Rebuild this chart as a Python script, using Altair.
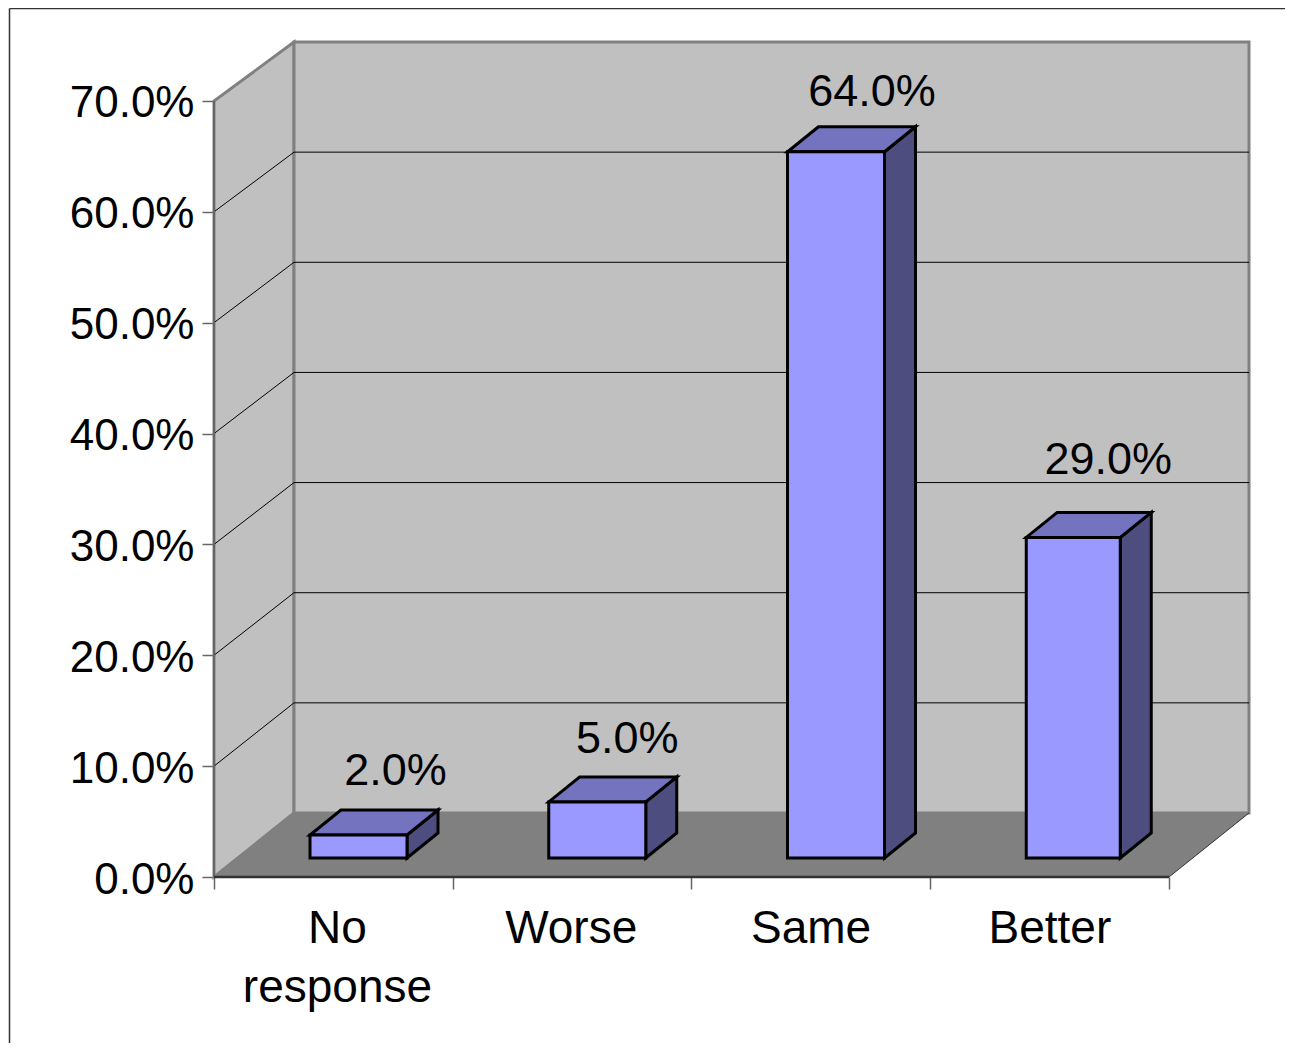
import altair as alt
import pandas as pd

categories = ["No\nresponse", "Worse", "Same", "Better"]
values = [2.0, 5.0, 64.0, 29.0]
label_lift = [50, 49, 46, 63]
label_shift = [37, 30, 36, 35]
bar_width = [97, 97, 97, 94]
y_ticks = [0, 10, 20, 30, 40, 50, 60, 70]
x_ticks = [0, 1, 2, 3, 4]

# Scale constants (pixels per data unit of the front plane)
PX_X, PX_Y = 238.75, 11.086
W, H = 1035, 835
XMAX, YMAX = W / PX_X, H / PX_Y
DX, DY = 80 / PX_X, 64 / PX_Y          # chart depth
BACK = (YMAX - DY) / 70                # back wall scale factor
BAR_L = 96 / PX_X
BAR_BASE = 19 / PX_Y
BAR_K = 0.994
BAR_C = 1 / PX_Y
BDX, BDY = 31 / PX_X, 25 / PX_Y        # bar depth

FONT = "Liberation Sans"
xs = alt.Scale(domain=[0, XMAX], nice=False, zero=False)
ys = alt.Scale(domain=[0, YMAX], nice=False, zero=False)
x_axis = alt.Axis(values=x_ticks, labels=False, domain=False, grid=False, title=None,
                  tickSize=12, tickColor="#666666", tickWidth=1.5)
y_axis = alt.Axis(values=y_ticks, domain=False, grid=False, tickSize=12, title=None,
                  tickColor="#666666", tickWidth=1.5, labelFont=FONT,
                  labelFontSize=44, labelColor="#000000", labelPadding=8, labelOffset=3,
                  labelOverlap=False, labelBound=False, labelFlush=False,
                  labelExpr="format(datum.value,'.1f')+'%'")
X = lambda f="x", **k: alt.X(f"{f}:Q", scale=xs, axis=x_axis, **k)
Y = lambda f="y", **k: alt.Y(f"{f}:Q", scale=ys, axis=y_axis, **k)

# Walls and floor
left_wall = pd.DataFrame({"x": [0, DX], "y": [0, DY], "y2": [70, YMAX]})
back_wall = pd.DataFrame({"x": [DX, 4 + DX], "y": [DY, DY], "y2": [YMAX, YMAX]})
floor = pd.DataFrame({"y": [0, DY], "x": [0, DX], "x2": [4, 4 + DX]})

wall_l = alt.Chart(left_wall).mark_area(color="#C0C0C0", stroke="#808080", strokeWidth=3).encode(
    x=X(), y=Y(), y2="y2:Q")
wall_b = alt.Chart(back_wall).mark_area(color="#C0C0C0", stroke="#808080", strokeWidth=3).encode(
    x=X(), y=Y(), y2="y2:Q")

grid_rows = []
for v in y_ticks[1:-1]:
    grid_rows += [
        {"v": v, "x": 0, "y": v, "o": 0},
        {"v": v, "x": DX, "y": DY + v * BACK, "o": 1},
        {"v": v, "x": 4 + DX, "y": DY + v * BACK, "o": 2},
    ]
grid = alt.Chart(pd.DataFrame(grid_rows)).mark_line(color="#000000", strokeWidth=1).encode(
    x=X(), y=Y(), detail="v:N", order="o:Q")

floor_area = alt.Chart(floor).mark_area(color="#808080", orient="horizontal").encode(
    y=Y(), x=X(), x2="x2:Q")

floor_edge = alt.Chart(pd.DataFrame({"x": [4, 4 + DX], "y": [0, DY]})).mark_line(
    color="#333333", strokeWidth=1).encode(x=X(), y=Y())
left_edge = alt.Chart(pd.DataFrame({"x": [0], "y": [0], "y2": [70]})).mark_rule(
    color="#666666", strokeWidth=2).encode(x=X(), y=Y(), y2="y2:Q")
front_edge = alt.Chart(pd.DataFrame({"x": [0], "x2": [4], "y": [0]})).mark_rule(
    color="#333333", strokeWidth=2.5).encode(x=X(), x2="x2:Q", y=Y())

# Bars
front, top, side, text = [], [], [], []
for i, (c, v, lift, shift, bw) in enumerate(zip(categories, values, label_lift, label_shift, bar_width)):
    x0 = i + BAR_L
    x1 = x0 + bw / PX_X
    yt = BAR_BASE + BAR_C + v * BAR_K
    front.append({"x": x0, "x2": x1, "y": BAR_BASE, "y2": yt})
    top += [{"b": i, "y": yt, "x": x0, "x2": x1},
            {"b": i, "y": yt + BDY, "x": x0 + BDX, "x2": x1 + BDX}]
    side += [{"b": i, "x": x1, "y": BAR_BASE, "y2": yt},
             {"b": i, "x": x1 + BDX, "y": BAR_BASE + BDY, "y2": yt + BDY}]
    text.append({"x": (x0 + x1) / 2 + shift / PX_X, "y": yt + lift / PX_Y,
                 "t": f"{v:.1f}%"})

BAR = dict(stroke="#000000", strokeWidth=3)
bar_front = alt.Chart(pd.DataFrame(front)).mark_rect(color="#9999FF", **BAR).encode(
    x=X(), x2="x2:Q", y=Y(), y2="y2:Q")
bar_top = alt.Chart(pd.DataFrame(top)).mark_area(color="#7373BF", orient="horizontal", **BAR).encode(
    y=Y(), x=X(), x2="x2:Q", detail="b:N")
bar_side = alt.Chart(pd.DataFrame(side)).mark_area(color="#4D4D80", **BAR).encode(
    x=X(), y=Y(), y2="y2:Q", detail="b:N")

value_labels = alt.Chart(pd.DataFrame(text)).mark_text(
    font=FONT, fontSize=45, color="#000000", align="center", baseline="alphabetic").encode(
    x=X(), y=Y(), text="t:N")

# Category labels
cat_df = pd.DataFrame({"x": [0.517, 1.496, 2.501, 3.501], "y": [0] * 4, "t": categories})
cat_labels = alt.Chart(cat_df).mark_text(
    font=FONT, fontSize=46, color="#000000", align="center", baseline="top",
    lineBreak="\n", lineHeight=59, dy=30).encode(x=X(), y=Y(), text="t:N")

# Outer frame: only the top and left edges fall inside the picture
frame_top = alt.Chart(pd.DataFrame({"a": [0]})).mark_rule(color="#333333", strokeWidth=1.5).encode(
    x=alt.value(-204.5), x2=alt.value(1100), y=alt.value(-33.5))
frame_left = alt.Chart(pd.DataFrame({"a": [0]})).mark_rule(color="#333333", strokeWidth=1.5).encode(
    x=alt.value(-204.5), y=alt.value(-33.5), y2=alt.value(1010))

chart = alt.layer(
    wall_l, wall_b, grid, floor_area, floor_edge, left_edge, front_edge,
    bar_side, bar_top, bar_front, value_labels, cat_labels, frame_top, frame_left,
).properties(
    width=W, height=H,
    autosize=alt.AutoSizeParams(type="none"),
    padding={"left": 206, "top": 34, "right": 36, "bottom": 166},
).configure_view(stroke=None)

chart.save("out.html", embed_options={"renderer": "svg", "actions": False})
